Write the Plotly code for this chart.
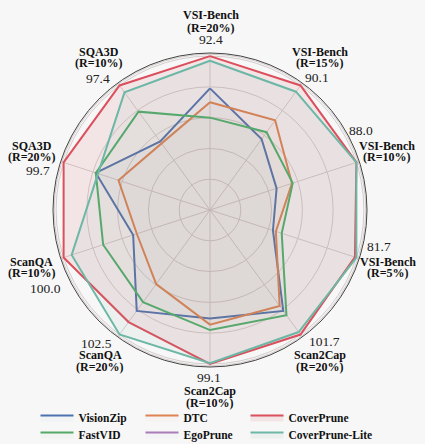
import plotly.graph_objects as go

W, H = 425, 444

axes = ["VSI-Bench (R=20%)", "VSI-Bench (R=15%)", "VSI-Bench (R=10%)", "VSI-Bench (R=5%)",
        "Scan2Cap (R=20%)", "Scan2Cap (R=10%)", "ScanQA (R=20%)", "ScanQA (R=10%)",
        "SQA3D (R=20%)", "SQA3D (R=10%)"]
axis_names = ["VSI-Bench", "VSI-Bench", "VSI-Bench", "VSI-Bench", "Scan2Cap", "Scan2Cap",
              "ScanQA", "ScanQA", "SQA3D", "SQA3D"]
axis_ratios = ["(R=20%)", "(R=15%)", "(R=10%)", "(R=5%)", "(R=20%)", "(R=10%)",
               "(R=20%)", "(R=10%)", "(R=20%)", "(R=10%)"]
axis_max = ["92.4", "90.1", "88.0", "81.7", "101.7", "99.1", "102.5", "100.0", "99.7", "97.4"]

# normalised scores (1.0 = outer ring)
visionzip = [0.79, 0.57, 0.455, 0.43, 0.81, 0.705, 0.81, 0.525, 0.78, 0.55]
dtc = [0.70, 0.72, 0.56, 0.45, 0.77, 0.745, 0.595, 0.50, 0.625, 0.535]
coverprune = [1.0, 1.0, 1.0, 0.99, 1.0, 1.0, 0.90, 1.0, 1.0, 1.0]
fastvid = [0.60, 0.625, 0.565, 0.49, 0.845, 0.78, 0.74, 0.73, 0.78, 0.79]
egoprune = []
coverprune_lite = [0.97, 0.95, 1.0, 1.0, 0.98, 0.995, 1.0, 0.945, 0.765, 0.945]

methods = ["VisionZip", "DTC", "CoverPrune", "FastVID", "EgoPrune", "CoverPrune-Lite"]
series = [visionzip, dtc, coverprune, fastvid, egoprune, coverprune_lite]
colors = ["#4C72B0", "#DD8452", "#DC4F5C", "#55A868", "#A97DB8", "#6DB7A6"]
fills = ["rgba(76,114,176,0.03)", "rgba(221,132,82,0.03)", "rgba(220,79,92,0.10)",
         "rgba(85,168,104,0.03)", "rgba(169,125,184,0.03)", "rgba(109,183,166,0.08)"]

legend_ids = ["legend", "legend2", "legend3", "legend4", "legend5", "legend6"]
# legend slot positions in pixels (left x, top y): 3 columns x 2 rows
legend_slots = [(35.5, 403), (140.5, 403), (245.5, 403),
                (35.5, 420), (140.5, 420), (245.5, 420)]

fig = go.Figure()
for name, vals, c, fc, lg in zip(methods, series, colors, fills, legend_ids):
    if vals:
        r = vals + vals[:1]
        th = axes + axes[:1]
    else:
        r, th = [None], [axes[0]]
    fig.add_trace(go.Scatterpolar(r=r, theta=th, mode="lines", name=name, legend=lg,
                                  line=dict(color=c, width=2), fill="toself",
                                  fillcolor=fc, hoverinfo="skip"))

cx, cy, R = 210, 210, 157
serif = "Liberation Serif"

# text positions in pixels: label x, line1 y, line2 y, number x, number y
label_pos = [(211, 15, 28.3, 211, 39.5), (319.5, 51.7, 63.3, 317, 77.3), (387, 145.7, 156.7, 361.3, 130.7),
             (387.5, 261.7, 272.7, 378.7, 246.7), (320, 355, 366.7, 324.3, 341),
             (210, 391, 403.3, 208.5, 377.7), (100, 355, 366.7, 96.7, 343.3),
             (31.7, 261.7, 272.7, 45.7, 288.3), (31.7, 145.7, 156.7, 38.3, 170.7),
             (99.3, 51.7, 63.3, 98.3, 78.3)]

ann = []
for nm, rt, mx, (lx, ly1, ly2, nx, ny) in zip(axis_names, axis_ratios, axis_max, label_pos):
    ann.append(dict(x=lx / W, y=1 - ly1 / H, text="<b>" + nm + "</b>", showarrow=False,
                    xref="paper", yref="paper", xanchor="center", yanchor="middle",
                    font=dict(family=serif, size=12, color="#111")))
    ann.append(dict(x=lx / W, y=1 - ly2 / H, text="<b>" + rt + "</b>", showarrow=False,
                    xref="paper", yref="paper", xanchor="center", yanchor="middle",
                    font=dict(family=serif, size=12, color="#111")))
    ann.append(dict(x=nx / W, y=1 - ny / H, text=mx, showarrow=False,
                    xref="paper", yref="paper", xanchor="center", yanchor="middle",
                    font=dict(family=serif, size=13.5, color="#222")))

legend_layout = {}
for lg, (lx, ly) in zip(legend_ids, legend_slots):
    legend_layout[lg] = dict(x=lx / W, y=1 - ly / H, xanchor="left", yanchor="top",
                             orientation="h", bgcolor="rgba(0,0,0,0)",
                             font=dict(family=serif, size=11.5, color="#111", weight="bold"),
                             itemwidth=33)

fig.update_layout(
    width=W, height=H,
    margin=dict(l=0, r=0, t=0, b=0, autoexpand=False),
    paper_bgcolor="#f7f7f7",
    plot_bgcolor="#f7f7f7",
    polar=dict(
        domain=dict(x=[(cx - R) / W, (cx + R) / W], y=[1 - (cy + R) / H, 1 - (cy - R) / H]),
        bgcolor="rgba(0,0,0,0)",
        radialaxis=dict(range=[0, 1.02], tickvals=[0.2, 0.4, 0.6, 0.8, 1.0, 1.012],
                        showticklabels=False, ticks="", gridcolor="#d4cccc", gridwidth=0.8,
                        showline=False),
        angularaxis=dict(rotation=90, direction="clockwise", showticklabels=False, ticks="",
                         gridcolor="#d4cccc", gridwidth=0.8, linecolor="#444", linewidth=1,
                         categoryorder="array", categoryarray=axes),
    ),
    showlegend=True,
    annotations=ann,
    **legend_layout,
)

fig.write_html("out.html", config={"displayModeBar": False},
               post_script="document.body.style.margin='0';document.body.style.overflow='hidden';")
